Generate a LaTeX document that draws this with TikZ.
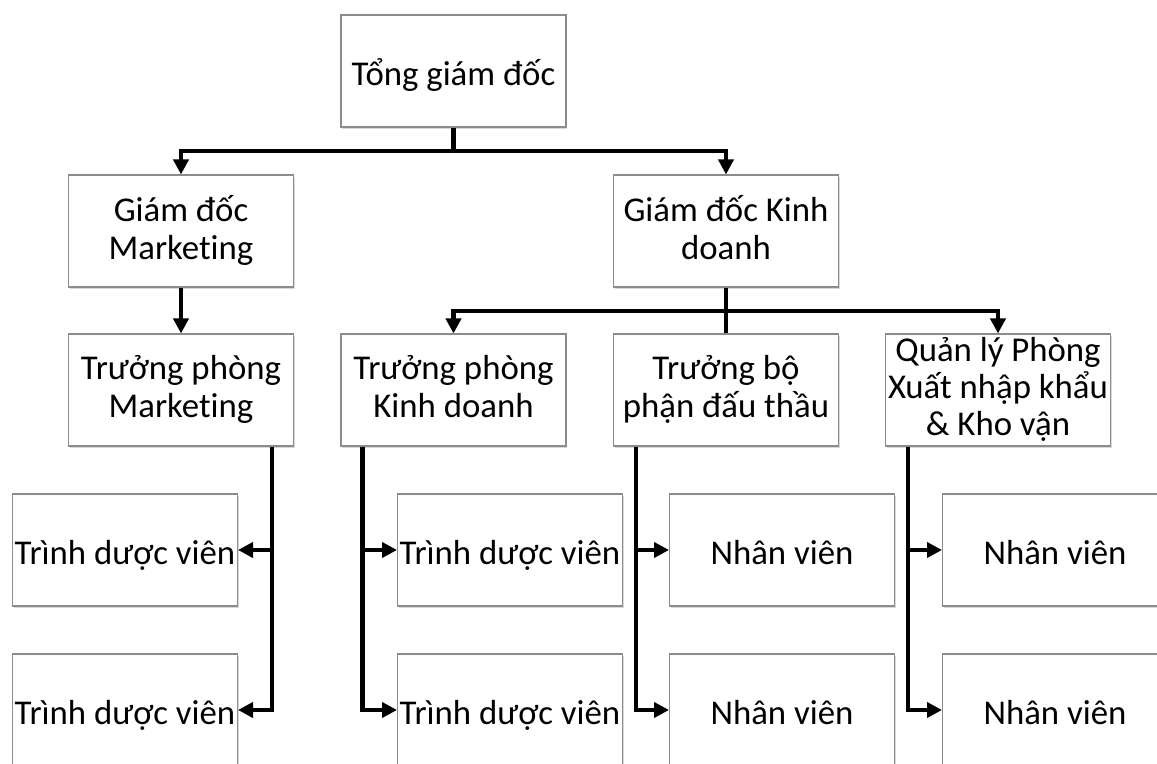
\documentclass[tikz,border=0pt]{standalone}
\usepackage{fontspec}
\setmainfont{Carlito}[Ligatures={NoCommon,NoContextual}]
\usetikzlibrary{arrows.meta,positioning,calc,shadows}

\begin{document}
\begin{tikzpicture}[x=0.02cm,y=0.02cm,
  hop/.style={draw=black!45, line width=0.6pt, fill=white, minimum width=4.5cm, minimum height=2.24cm,
    inner sep=0pt, align=center, font=\fontsize{19.8}{22}\selectfont,
    execute at begin node={\rule{0pt}{21pt}}, execute at end node={\rule[-4pt]{0pt}{4pt}},
    drop shadow={shadow xshift=0.6pt, shadow yshift=-1.2pt, opacity=0.3}},
  hopcao/.style={hop, font=\fontsize{19.8}{21.3}\selectfont,
    execute at begin node={}, execute at end node={}},
  noi/.style={line width=2.3pt},
  muiten/.style={noi, -{Triangle[length=0.3cm,width=0.3cm]}}]
  \useasboundingbox (0,0) rectangle (1157,764); % 図全体の大きさ
  \clip (0,0) rectangle (1157,764); % 下端と右端の箱は切れている

  \node[hop] (tgd) at (453.5,693) {Tổng giám đốc}; % 最上位
  \node[hop] (gdm) at (181,533) {Giám đốc\\Marketing}; % 第2段左
  \node[hop] (gdkd) at (726,533) {Giám đốc Kinh\\doanh}; % 第2段右
  \node[hop] (tpm) at (181,374) {Trưởng phòng\\Marketing}; % 第3段
  \node[hop] (tpkd) at (453.5,374) {Trưởng phòng\\Kinh doanh};
  \node[hop] (tbp) at (726,374) {Trưởng bộ\\phận đấu thầu};
  \node[hopcao] (qlp) at (998,374) {Quản lý Phòng\\Xuất nhập khẩu\\\& Kho vận}; % 3行
  \node[hop] (tdv1) at (125,214) {Trình dược viên}; % 第4段
  \node[hop] (tdv2) at (125,54) {Trình dược viên};
  \node[hop] (tdv3) at (510,214) {Trình dược viên};
  \node[hop] (tdv4) at (510,54) {Trình dược viên};
  \node[hop] (nv1) at (782,214) {Nhân viên};
  \node[hop] (nv2) at (782,54) {Nhân viên};
  \node[hop] (nv3) at (1055,214) {Nhân viên};
  \node[hop] (nv4) at (1055,54) {Nhân viên};

  \coordinate (nhanh1) at (453.5,613); % 上の横線
  \coordinate (nhanh2) at (726,453); % 中の横線

  \draw[noi] (tgd) -- (nhanh1);
  \draw[muiten] (nhanh1) -| (gdm);
  \draw[muiten] (nhanh1) -| (gdkd);
  \draw[muiten] (gdm) -- (tpm);
  \draw[noi] (gdkd) -- (tbp); % 中央は矢印なし
  \draw[muiten] (nhanh2) -| (tpkd);
  \draw[muiten] (nhanh2) -| (qlp);

  \draw[muiten] ([xshift=-0.44cm]tpm.south east) |- (tdv1); % 左へ
  \draw[muiten] ([xshift=-0.44cm]tpm.south east) |- (tdv2);
  \draw[muiten] ([xshift=0.44cm]tpkd.south west) |- (tdv3); % 右へ
  \draw[muiten] ([xshift=0.44cm]tpkd.south west) |- (tdv4);
  \draw[muiten] ([xshift=0.46cm]tbp.south west) |- (nv1);
  \draw[muiten] ([xshift=0.46cm]tbp.south west) |- (nv2);
  \draw[muiten] ([xshift=0.46cm]qlp.south west) |- (nv3);
  \draw[muiten] ([xshift=0.46cm]qlp.south west) |- (nv4);
\end{tikzpicture}
\end{document}
